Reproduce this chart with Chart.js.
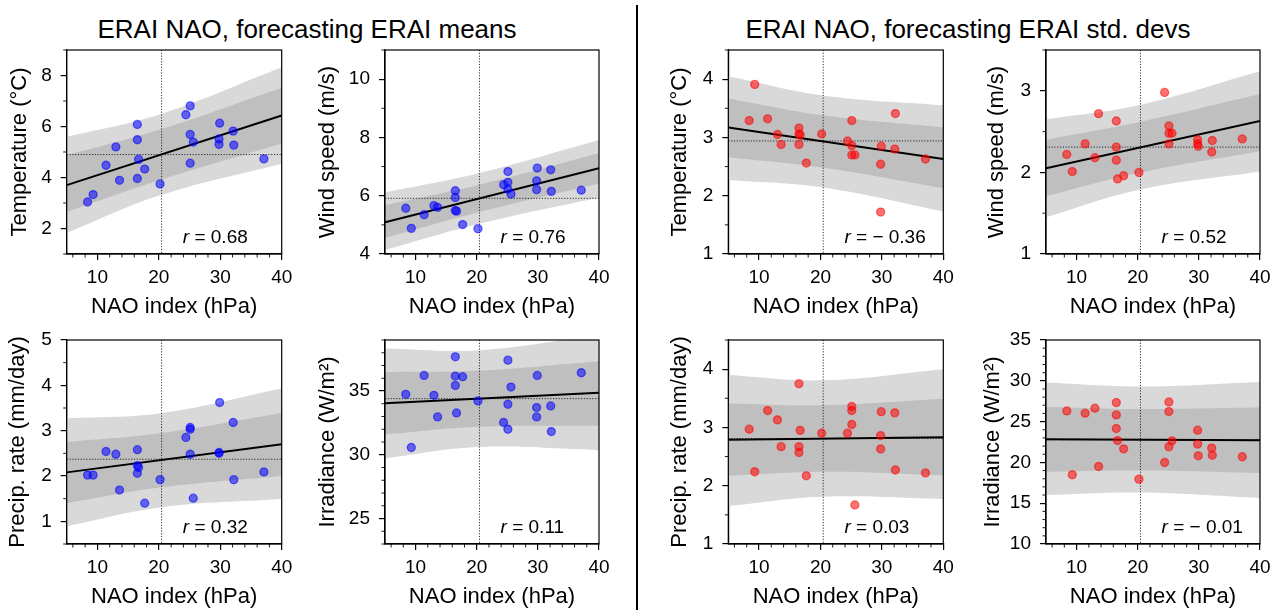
<!DOCTYPE html>
<html>
<head>
<meta charset="utf-8">
<script src="https://cdn.jsdelivr.net/npm/chart.js@4"></script>
<style>
  body { margin: 0; background: #fff; }
  #fig { position: relative; width: 1280px; height: 610px; overflow: hidden;
         font-family: "Liberation Sans", Arial, sans-serif; color: #000; }
  .suptitle { position: absolute; top: 14px; width: 460px; text-align: center;
              font-size: 26px; line-height: 30px; }
  .panel { position: absolute; }
  #divider { position: absolute; left: 636px; top: 5px; width: 2px; height: 605px; background: #000; }
</style>
</head>
<body>
<div id="fig">
  <div class="suptitle" style="left:77px">ERAI NAO, forecasting ERAI means</div>
  <div class="suptitle" style="left:738px">ERAI NAO, forecasting ERAI std. devs</div>
  <div id="divider"></div>
</div>
<script>
// winter NAO index (hPa), one value per winter, shared by every panel
const nao = [8.4, 9.3, 11.4, 13.0, 13.6, 16.5, 16.5, 16.5, 16.7, 17.7, 20.2,
             24.4, 25.1, 25.1, 25.1, 25.6, 29.8, 29.8, 29.9, 32.1, 32.2, 37.1];
const naoMean = 20.45;
const naoTicks = [10, 20, 30, 40];

// x positions where fits and prediction bands are given
const fitX = [5, 40];
const bandX = [5, 20.45, 40];

// ERAI winter means
const tempMean   = [3.04, 3.33, 4.48, 5.20, 3.89, 6.08, 5.48, 3.96, 4.71, 4.33, 3.75,
                    6.46, 6.81, 5.69, 4.56, 5.39, 5.51, 5.30, 6.13, 5.82, 5.27, 4.73];
const windMean   = [5.57, 4.88, 5.35, 5.66, 5.60, 6.17, 5.94, 5.49, 5.47, 5.01, 4.87,
                    6.38, 6.83, 6.46, 6.23, 6.06, 6.51, 6.21, 6.95, 6.89, 6.15, 6.19];
const precipMean = [2.02, 2.02, 2.54, 2.48, 1.69, 2.58, 2.23, 2.06, 2.19, 1.40, 1.92,
                    2.85, 3.07, 3.03, 2.48, 1.51, 2.50, 2.52, 3.62, 3.18, 1.92, 2.09];
const irrMean    = [34.74, 30.57, 36.22, 34.66, 32.97, 37.68, 36.17, 35.44, 33.28, 36.12, 34.22,
                    32.53, 37.42, 33.96, 32.00, 35.31, 33.70, 32.97, 36.22, 33.83, 31.82, 36.43];

// ERAI winter standard deviations
const tempStd    = [3.29, 3.91, 3.32, 3.05, 2.88, 3.16, 3.06, 2.88, 3.04, 2.56, 3.06,
                    2.94, 3.29, 2.86, 2.70, 2.70, 2.54, 1.72, 2.85, 2.80, 3.41, 2.63];
const windStd    = [2.22, 2.01, 2.35, 2.18, 2.72, 2.63, 2.31, 2.15, 1.92, 1.96, 2.00,
                    2.98, 2.57, 2.48, 2.35, 2.48, 2.40, 2.35, 2.32, 2.25, 2.39, 2.41];
const precipStd  = [2.97, 2.24, 3.29, 3.13, 2.67, 3.75, 2.67, 2.57, 2.95, 2.17, 2.90,
                    2.90, 3.36, 3.29, 3.05, 1.67, 2.86, 2.63, 3.27, 3.25, 2.27, 2.22];
const irrStd     = [26.31, 18.48, 26.03, 26.64, 19.50, 27.33, 25.82, 24.15, 22.68, 21.66, 17.95,
                    19.99, 27.41, 26.23, 21.91, 22.64, 23.95, 22.24, 20.81, 21.75, 20.89, 20.69];

// regression lines (at fitX) and bands (at bandX): [lower, upper]
const tempMeanFit = [3.70, 6.43];
const tempMeanOuter = [[1.83, 3.32, 4.54], [5.59, 6.50, 8.32]];
const tempMeanInner = [[2.65, 3.92, 5.33], [4.87, 5.90, 7.52]];

const windMeanFit = [5.09, 6.94];
const windMeanOuter = [[4.14, 5.04, 5.94], [6.11, 6.78, 7.91]];
const windMeanInner = [[4.55, 5.44, 6.42], [5.68, 6.38, 7.46]];

const precipMeanFit = [2.08, 2.70];
const precipMeanOuter = [[0.89, 1.31, 1.49], [3.27, 3.39, 3.93]];
const precipMeanInner = [[1.40, 1.75, 2.00], [2.75, 2.95, 3.39]];

const irrMeanFit = [34.04, 34.87];
const irrMeanOuter = [[29.71, 30.60, 30.36], [38.33, 38.20, 39.40]];
const irrMeanInner = [[31.60, 32.20, 32.27], [36.48, 36.60, 37.34]];

const tempStdFit = [3.17, 2.63];
const tempStdOuter = [[2.27, 2.14, 1.73], [4.05, 3.72, 3.55]];
const tempStdInner = [[2.66, 2.48, 2.13], [3.67, 3.38, 3.17]];

const windStdFit = [2.05, 2.63];
const windStdOuter = [[1.45, 1.79, 2.01], [2.65, 2.83, 3.24]];
const windStdInner = [[1.71, 2.00, 2.26], [2.40, 2.62, 2.96]];

const precipStdFit = [2.79, 2.83];
const precipStdOuter = [[1.65, 1.81, 1.77], [3.90, 3.81, 4.00]];
const precipStdInner = [[2.17, 2.24, 2.18], [3.41, 3.38, 3.49]];

const irrStdFit = [22.85, 22.72];
const irrStdOuter = [[16.00, 16.30, 15.63], [29.78, 29.30, 29.86]];
const irrStdInner = [[18.85, 19.00, 18.69], [26.80, 26.55, 26.72]];

// mean of each predictand (dotted horizontal line)
const predictandMeans = [4.90, 5.91, 2.37, 34.40, 2.94, 2.31, 2.81, 22.77];
// correlation labels
const corrLabels = ['0.68', '0.76', '0.32', '0.11', '\u2212 0.36', '0.52', '0.03', '\u2212 0.01'];

const FAMILY = '"Liberation Sans", Arial, sans-serif';
const BLUE = 'rgba(0, 0, 255, 0.55)';
const RED = 'rgba(255, 0, 0, 0.55)';
const LIGHT = '#d9d9d9';
const DARK = '#bfbfbf';

const panels = [
  {box: [0, 40, 300, 280],    plotL: 66.7,  plotR: 281.7, titleX: 20,  ylabel: 'Temperature (\u00b0C)',
   min: 1, max: 9, yTicks: [2, 4, 6, 8], yMinor: 1, values: tempMean, fit: tempMeanFit,
   outer: tempMeanOuter, inner: tempMeanInner, color: BLUE},
  {box: [300, 40, 310, 280],  plotL: 385,   plotR: 599,   titleX: 328, ylabel: 'Wind speed (m/s)',
   min: 4, max: 11, yTicks: [4, 6, 8, 10], yMinor: 1, values: windMean, fit: windMeanFit,
   outer: windMeanOuter, inner: windMeanInner, color: BLUE},
  {box: [0, 330, 300, 280],   plotL: 66.7,  plotR: 281.7, titleX: 18,  ylabel: 'Precip. rate (mm/day)',
   min: 0.5, max: 5, yTicks: [1, 2, 3, 4, 5], yMinor: 0.5, values: precipMean, fit: precipMeanFit,
   outer: precipMeanOuter, inner: precipMeanInner, color: BLUE},
  {box: [300, 330, 310, 280], plotL: 385,   plotR: 599,   titleX: 328, ylabel: 'Irradiance (W/m\u00b2)',
   min: 23, max: 39, yTicks: [25, 30, 35], yMinor: 1, values: irrMean, fit: irrMeanFit,
   outer: irrMeanOuter, inner: irrMeanInner, color: BLUE},
  {box: [660, 40, 300, 280],  plotL: 728.3, plotR: 943.3, titleX: 680, ylabel: 'Temperature (\u00b0C)',
   min: 1, max: 4.5, yTicks: [1, 2, 3, 4], yMinor: 0.5, values: tempStd, fit: tempStdFit,
   outer: tempStdOuter, inner: tempStdInner, color: RED},
  {box: [960, 40, 320, 280],  plotL: 1046,  plotR: 1260,  titleX: 997, ylabel: 'Wind speed (m/s)',
   min: 1, max: 3.5, yTicks: [1, 2, 3], yMinor: 0.5, values: windStd, fit: windStdFit,
   outer: windStdOuter, inner: windStdInner, color: RED},
  {box: [660, 330, 300, 280], plotL: 728.3, plotR: 943.3, titleX: 680, ylabel: 'Precip. rate (mm/day)',
   min: 1, max: 4.5, yTicks: [1, 2, 3, 4], yMinor: 0.5, values: precipStd, fit: precipStdFit,
   outer: precipStdOuter, inner: precipStdInner, color: RED},
  {box: [960, 330, 320, 280], plotL: 1046,  plotR: 1260,  titleX: 993, ylabel: 'Irradiance (W/m\u00b2)',
   min: 10, max: 35, yTicks: [10, 15, 20, 25, 30, 35], yMinor: 1, values: irrStd, fit: irrStdFit,
   outer: irrStdOuter, inner: irrStdInner, color: RED}
];

function minorValues(scale, step) {
  const out = [];
  const start = Math.ceil(scale.min / step - 1e-9);
  const end = Math.floor(scale.max / step + 1e-9);
  for (let k = start; k <= end; k++) {
    const v = k * step;
    if (!scale.ticks.some(t => Math.abs(t.value - v) < 1e-9)) out.push(v);
  }
  return out;
}

// dotted mean lines, frame, minor ticks and the r label
const panelDecor = {
  id: 'panelDecor',
  afterDatasetDraw(chart, args, opts) {
    if (args.index !== 2) return;
    const {ctx, chartArea: a, scales: {x, y}} = chart;
    const px = x.getPixelForValue(opts.meanX);
    const py = y.getPixelForValue(opts.meanY);
    ctx.save();
    ctx.beginPath();
    ctx.rect(a.left, a.top, a.width, a.height);
    ctx.clip();
    ctx.strokeStyle = '#000';
    ctx.lineWidth = 0.8;
    ctx.setLineDash([1.2, 1.6]);
    ctx.beginPath();
    ctx.moveTo(px, a.top); ctx.lineTo(px, a.bottom);
    ctx.moveTo(a.left, py); ctx.lineTo(a.right, py);
    ctx.stroke();
    ctx.restore();
  },
  afterDraw(chart, args, opts) {
    const {ctx, chartArea: a, scales: {x, y}} = chart;
    ctx.save();
    ctx.strokeStyle = '#000';
    ctx.lineWidth = 0.9;
    ctx.beginPath();
    minorValues(x, opts.xMinor).forEach(v => {
      const p = x.getPixelForValue(v);
      ctx.moveTo(p, a.bottom); ctx.lineTo(p, a.bottom + 3.5);
    });
    minorValues(y, opts.yMinor).forEach(v => {
      const p = y.getPixelForValue(v);
      ctx.moveTo(a.left, p); ctx.lineTo(a.left - 3.5, p);
    });
    ctx.stroke();

    ctx.lineWidth = 1.2;
    ctx.strokeRect(a.left, a.top, a.width, a.height);

    ctx.fillStyle = '#000';
    ctx.textBaseline = 'middle';
    ctx.textAlign = 'left';
    let tx = a.left + 0.54 * a.width;
    const ty = a.bottom - 16;
    ctx.font = 'italic 19px ' + FAMILY;
    ctx.fillText('r', tx, ty);
    tx += ctx.measureText('r').width;
    ctx.font = '19px ' + FAMILY;
    ctx.fillText(' = ' + opts.r, tx, ty);
    ctx.restore();
  }
};

function makePanel(p, idx) {
  const holder = document.createElement('div');
  holder.className = 'panel';
  holder.style.left = p.box[0] + 'px';
  holder.style.top = p.box[1] + 'px';
  holder.style.width = p.box[2] + 'px';
  holder.style.height = p.box[3] + 'px';
  const canvas = document.createElement('canvas');
  canvas.width = p.box[2];
  canvas.height = p.box[3];
  holder.appendChild(canvas);
  document.getElementById('fig').appendChild(holder);

  const band = arr => bandX.map((v, i) => ({x: v, y: arr[i]}));
  const bandStyle = {type: 'line', borderWidth: 0, pointRadius: 0, tension: 0.4};

  new Chart(canvas, {
    type: 'scatter',
    data: {
      datasets: [
        Object.assign({data: band(p.outer[1]), fill: '+1', backgroundColor: LIGHT, order: 6}, bandStyle),
        Object.assign({data: band(p.outer[0]), fill: false, order: 6}, bandStyle),
        Object.assign({data: band(p.inner[1]), fill: '+1', backgroundColor: DARK, order: 5}, bandStyle),
        Object.assign({data: band(p.inner[0]), fill: false, order: 5}, bandStyle),
        {type: 'line', data: fitX.map((v, i) => ({x: v, y: p.fit[i]})), borderColor: '#000',
         borderWidth: 2, pointRadius: 0, fill: false, order: 2},
        {type: 'scatter', data: nao.map((v, i) => ({x: v, y: p.values[i]})),
         backgroundColor: p.color, borderColor: p.color, borderWidth: 1.3, pointRadius: 4, order: 1}
      ]
    },
    options: {
      responsive: false,
      animation: false,
      devicePixelRatio: 1,
      layout: {padding: {top: 10, right: p.box[0] + p.box[2] - p.plotR, bottom: 0, left: 0}},
      plugins: {
        legend: {display: false},
        tooltip: {enabled: false},
        panelDecor: {meanX: naoMean, meanY: predictandMeans[idx], r: corrLabels[idx], xMinor: 2, yMinor: p.yMinor}
      },
      scales: {
        x: {
          type: 'linear', min: 5, max: 40,
          afterBuildTicks: s => { s.ticks = naoTicks.map(v => ({value: v})); },
          afterFit: s => { s.height = 66; s.paddingLeft = 0; s.paddingRight = 0; },
          grid: {drawOnChartArea: false, tickLength: 6, color: '#000', lineWidth: 1.2},
          border: {color: '#000', width: 1.2},
          ticks: {color: '#000', font: {family: FAMILY, size: 19}, padding: 6.6, maxRotation: 0, autoSkip: false},
          title: {display: true, text: 'NAO index (hPa)', color: '#000',
                  font: {family: FAMILY, size: 22, lineHeight: 1}, padding: {top: 0, bottom: 2}}
        },
        y: {
          type: 'linear', min: p.min, max: p.max,
          afterBuildTicks: s => { s.ticks = p.yTicks.map(v => ({value: v})); },
          afterFit: s => { s.width = p.plotL - p.box[0]; s.paddingTop = 0; s.paddingBottom = 0; },
          grid: {drawOnChartArea: false, tickLength: 6, color: '#000', lineWidth: 1.2},
          border: {color: '#000', width: 1.2},
          ticks: {color: '#000', font: {family: FAMILY, size: 19}, padding: 9, autoSkip: false},
          title: {display: true, text: p.ylabel, color: '#000',
                  font: {family: FAMILY, size: 22, lineHeight: 1},
                  padding: {top: p.titleX - p.box[0] - 11, bottom: 0}}
        }
      }
    },
    plugins: [panelDecor]
  });
}

panels.forEach(makePanel);
</script>
</body>
</html>
